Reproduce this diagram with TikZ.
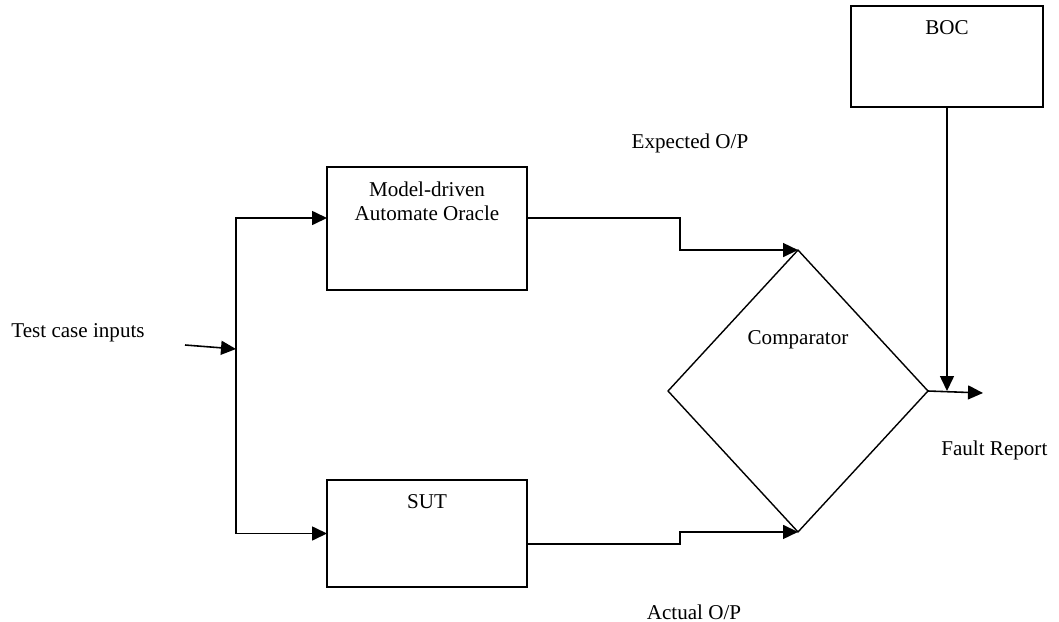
\documentclass[tikz,border=0pt]{standalone}
\usepackage{fontspec}
\setmainfont{Liberation Serif}
\usetikzlibrary{shapes.geometric,arrows.meta}

\begin{document}
\begin{tikzpicture}[x=0.02cm, y=-0.02cm, >={Triangle[length=0.3cm,width=0.28cm]}, line width=0.9pt, every node/.style={font=\fontsize{12}{13.5}\selectfont}]
    \tikzstyle{block} = [rectangle, draw=black, minimum width=4cm, inner sep=0pt, outer sep=0pt]
    \tikzstyle{judge} = [diamond, draw=black, line width=0.8pt, minimum width=5.2cm, minimum height=5.64cm, inner sep=0pt, outer sep=0pt]
    \tikzstyle{heading} = [anchor=north, yshift=-0.16cm, align=center]

    \useasboundingbox (0,0) rectangle (1059,622);

    % Blocks
    \node [block, minimum height=2.46cm, label={[heading]north:Model-driven\\Automate Oracle}] (oracle) at (427,228.5) {};
    \node [block, minimum height=2.14cm, label={[heading]north:SUT}] (sut) at (427,533.5) {};
    \node [judge, label={[yshift=1.02cm]center:Comparator}] (comparator) at (798,391) {};
    \node [block, minimum width=3.84cm, minimum height=2.02cm, label={[heading]north:BOC}] (boc) at (947,56.5) {};

    % Free ends
    \coordinate (src) at (185,345);
    \coordinate (fork) at (236,349);
    \coordinate (report) at (983,393);

    % Connections
    \draw [->] (src) -- (fork);
    \draw [->] (fork) |- ([yshift=0.21cm]oracle.west);
    \draw [->] (fork) |- (sut.west);

    \draw [->] ([yshift=0.21cm]oracle.east) -| ([xshift=-2.36cm]comparator.north) -- (comparator.north);
    \draw [->] ([yshift=-0.21cm]sut.east) -| ([xshift=-2.36cm]comparator.south) -- (comparator.south);

    \draw [->] (boc.south) -- (boc.south |- comparator.east);
    \draw [->] (comparator.east) -- (report);

    % Annotations
    \node (inputs) at (78,333) {Test case inputs};
    \node (expected) at (690,143) {Expected O/P};
    \node (actual) at (694,612) {Actual O/P};
    \node [anchor=east] (fault) at (1054,450) {Fault Report};
\end{tikzpicture}
\end{document}
